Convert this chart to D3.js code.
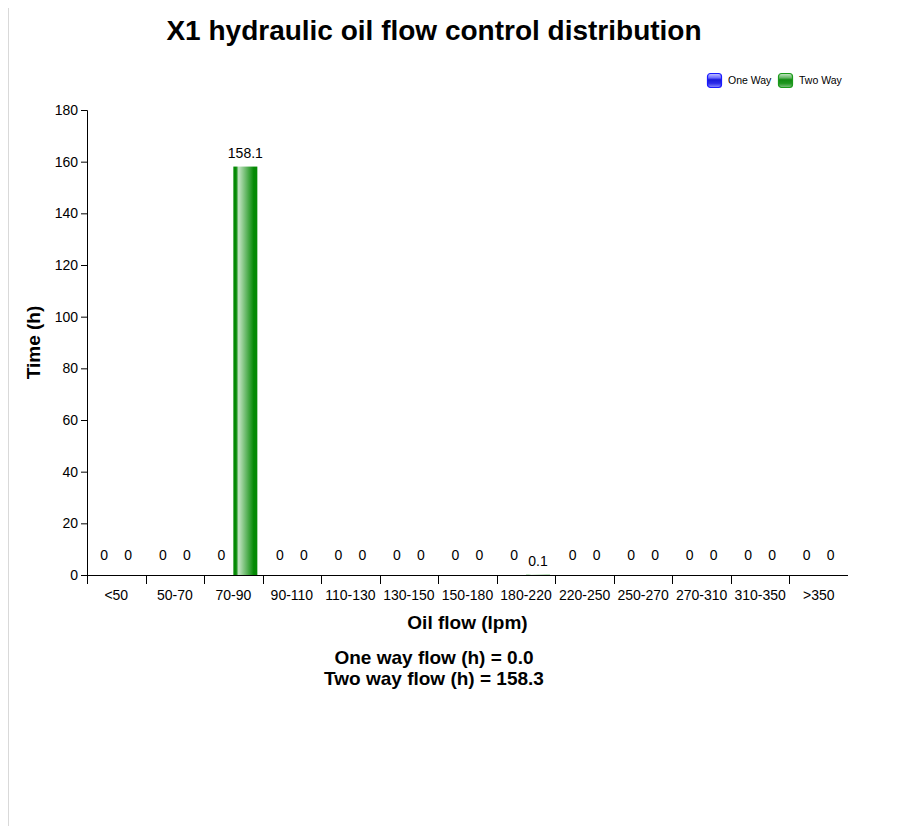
<!DOCTYPE html>
<html>
<head>
<meta charset="utf-8">
<script src="https://cdn.jsdelivr.net/npm/d3@7"></script>
<style>
  body { margin: 0; background: #fff; font-family: Arial, "Liberation Sans", sans-serif; }
  svg text { font-family: Arial, "Liberation Sans", sans-serif; }
</style>
</head>
<body>
<svg id="chart" width="910" height="826"></svg>
<script>
const categories = ["<50","50-70","70-90","90-110","110-130","130-150","150-180","180-220","220-250","250-270","270-310","310-350",">350"];
const oneWay = [0,0,0,0,0,0,0,0,0,0,0,0,0];
const twoWay = [0,0,158.1,0,0,0,0,0.1,0,0,0,0,0];
const seriesNames = ["One Way","Two Way"];
const yTicks = [0,20,40,60,80,100,120,140,160,180];
const title = "X1 hydraulic oil flow control distribution";
const xTitle = "Oil flow (lpm)";
const yTitle = "Time (h)";
const summary = ["One way flow (h) = 0.0", "Two way flow (h) = 158.3"];

const svg = d3.select("#chart");
const W = 910, H = 826;
const m = {left: 87, right: 62, top: 110, bottom: 251};
const iw = W - m.left - m.right, ih = H - m.top - m.bottom;

// left grey border line
svg.append("line").attr("x1", 8.5).attr("x2", 8.5).attr("y1", 8).attr("y2", H)
  .attr("stroke", "#d9d9d9").attr("stroke-width", 1);

const defs = svg.append("defs");
function barGrad(id, dark, light) {
  const g = defs.append("linearGradient").attr("id", id).attr("x1", "0%").attr("x2", "100%").attr("y1", "0%").attr("y2", "0%");
  g.append("stop").attr("offset", "0%").attr("stop-color", dark);
  g.append("stop").attr("offset", "12%").attr("stop-color", dark);
  g.append("stop").attr("offset", "22%").attr("stop-color", light);
  g.append("stop").attr("offset", "85%").attr("stop-color", dark);
  g.append("stop").attr("offset", "100%").attr("stop-color", dark);
}
barGrad("gOne", "#0000e0", "#c8c8ff");
barGrad("gTwo", "#058a05", "#c4e4c4");
function legGrad(id, stops) {
  const g = defs.append("linearGradient").attr("id", id).attr("x1", "0%").attr("x2", "0%").attr("y1", "0%").attr("y2", "100%");
  stops.forEach(s => g.append("stop").attr("offset", s[0]).attr("stop-color", s[1]));
}
legGrad("lOne", [["0%", "#c8c8ff"], ["30%", "#7070ff"], ["45%", "#1818d8"], ["70%", "#2a2ae8"], ["100%", "#8a8aff"]]);
legGrad("lTwo", [["0%", "#c8e8c8"], ["30%", "#68b868"], ["45%", "#128a12"], ["70%", "#1e961e"], ["100%", "#80c080"]]);

const g = svg.append("g").attr("transform", `translate(${m.left},${m.top})`);

const x0 = d3.scaleBand().domain(categories).range([0, iw]).paddingInner(0).paddingOuter(0);
const bw = x0.bandwidth();
const x1 = d3.scaleBand().domain(seriesNames).range([bw / 2 - 24, bw / 2 + 24]).paddingInner(0).paddingOuter(0);
const y = d3.scaleLinear().domain([0, 180]).range([ih, 0]);

// y axis
const yAxis = g.append("g").call(d3.axisLeft(y).tickValues(yTicks).tickSize(6).tickPadding(3));
yAxis.selectAll("text").attr("font-size", 14).attr("fill", "#000");
yAxis.selectAll("line,path").attr("stroke", "#000");

// x axis with ticks at band boundaries
const xAxisG = g.append("g").attr("transform", `translate(0,${ih})`);
xAxisG.append("line").attr("x1", 0).attr("x2", iw).attr("y1", 0.5).attr("y2", 0.5).attr("stroke", "#000");
xAxisG.selectAll(".bt").data(d3.range(categories.length)).join("line")
  .attr("x1", i => Math.round(x0(categories[i])) + 0.5).attr("x2", i => Math.round(x0(categories[i])) + 0.5)
  .attr("y1", 0).attr("y2", 9).attr("stroke", "#000");
xAxisG.selectAll(".xl").data(categories).join("text")
  .attr("x", d => x0(d) + bw / 2).attr("y", 25)
  .attr("text-anchor", "middle").attr("font-size", 14).attr("fill", "#000").text(d => d);

// bars
const data = categories.map((c, i) => ({cat: c, vals: [{s: "One Way", v: oneWay[i]}, {s: "Two Way", v: twoWay[i]}]}));
const grp = g.selectAll(".grp").data(data).join("g").attr("transform", d => `translate(${x0(d.cat)},0)`);
grp.selectAll("rect").data(d => d.vals).join("rect")
  .attr("x", d => x1(d.s)).attr("width", x1.bandwidth())
  .attr("y", d => y(d.v)).attr("height", d => ih - y(d.v))
  .attr("fill", d => d.s === "One Way" ? "url(#gOne)" : "url(#gTwo)");
grp.selectAll("text").data(d => d.vals).join("text")
  .attr("x", d => x1(d.s) + x1.bandwidth() / 2)
  .attr("y", d => d.v > 0 ? y(d.v) - 9 : y(0) - 15)
  .attr("text-anchor", "middle").attr("font-size", 14).attr("fill", "#000")
  .text(d => d.v);

// titles
svg.append("text").attr("x", 434).attr("y", 40).attr("text-anchor", "middle")
  .attr("font-size", 28).attr("font-weight", "bold").text(title);
svg.append("text").attr("x", m.left + iw / 2).attr("y", 629).attr("text-anchor", "middle")
  .attr("font-size", 19).attr("font-weight", "bold").text(xTitle);
svg.append("text").attr("transform", `translate(40,${m.top + ih / 2}) rotate(-90)`).attr("text-anchor", "middle")
  .attr("font-size", 19).attr("font-weight", "bold").text(yTitle);
svg.selectAll(".sum").data(summary).join("text")
  .attr("x", 434).attr("y", (d, i) => 664 + i * 21).attr("text-anchor", "middle")
  .attr("font-size", 19).attr("font-weight", "bold").text(d => d);

// legend
const legX = [707, 778];
const leg = svg.selectAll(".leg").data(seriesNames).join("g")
  .attr("transform", (d, i) => `translate(${legX[i]},73)`);
leg.append("rect").attr("x", 0.5).attr("y", 0.5).attr("width", 14).attr("height", 14).attr("rx", 3)
  .attr("fill", (d, i) => i === 0 ? "url(#lOne)" : "url(#lTwo)")
  .attr("stroke", (d, i) => i === 0 ? "#1a1aff" : "#1a9a1a").attr("stroke-width", 1.2);
leg.append("text").attr("x", 21).attr("y", 11).attr("font-size", 10.5).attr("fill", "#000").text(d => d);
</script>
</body>
</html>
